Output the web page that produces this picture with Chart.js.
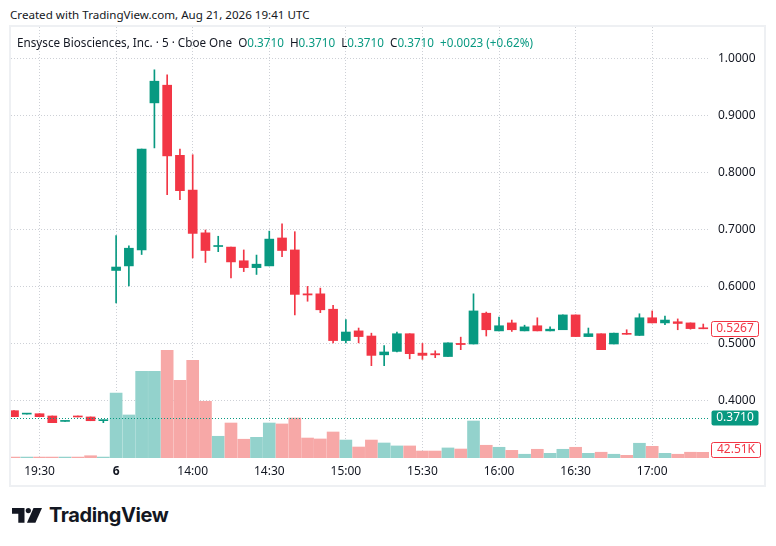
<!doctype html>
<html lang="en">

<head>
	<meta charset="utf-8">
	<title>Ensysce Biosciences 5m</title>
	<style>
		* {
			margin: 0;
			padding: 0;
		}

		body {
			width: 776px;
			height: 546px;
			background: #fff;
			color: #131722;
			font-family: 'Noto Sans', sans-serif;
			position: relative;
			overflow: hidden;
		}

		.created {
			position: absolute;
			left: 10px;
			top: 7px;
			font-size: 11.6px;
			line-height: 16px;
		}

		.panel {
			position: absolute;
			left: 9px;
			top: 25px;
			width: 757px;
			height: 462px;
			border: 2px solid #eef0f3;
			box-sizing: border-box;
		}

		.panel canvas {
			position: absolute;
			left: 0;
			top: 0;
		}

		.legend {
			position: absolute;
			left: 6px;
			top: 7px;
			font-size: 11.7px;
			line-height: 16px;
			white-space: pre;
		}

		.legend .v {
			color: #089981;
		}

		.brand {
			position: absolute;
			left: 12px;
			top: 504px;
		}

		.brand span {
			position: absolute;
			left: 37px;
			top: -1px;
			font-family: Inter, sans-serif;
			font-weight: 700;
			font-size: 20px;
			letter-spacing: -0.4px;
			line-height: 24px;
			white-space: nowrap;
		}
	</style>
</head>

<body>
	<div class="created">Created with TradingView.com, Aug 21, 2026 19:41 UTC</div>
	<div class="panel">
		<canvas id="priceChart" width="753" height="458"></canvas>
		<div class="legend">Ensysce Biosciences, Inc. · 5 · Cboe One  O<span class="v">0.3710</span>  H<span class="v">0.3710</span>  L<span class="v">0.3710</span>  C<span class="v">0.3710</span>  <span class="v">+0.0023 (+0.62%)</span></div>
	</div>
	<div class="brand">
		<svg width="32" height="20" viewBox="0 0 32 20">
			<path d="M0 4h12.5v14.7h-6.2v-9h-6.3z" fill="#131722" />
			<circle cx="16.3" cy="6.6" r="2.6" fill="#131722" />
			<path d="M21.5 4h8.5l-6.6 14.7h-8.4z" fill="#131722" />
		</svg>
		<span>TradingView</span>
	</div>

	<script src="https://cdn.jsdelivr.net/npm/chart.js"></script>
	<script>
		// 5 min bars: 19:20-19:55 previous day, then 13:30-17:20 on the 6th
		const opens = [
			0.383, 0.3770, 0.3777, 0.3737, 0.3642, 0.3737, 0.372, 0.3655,
			0.629, 0.637, 0.665, 0.923, 0.954, 0.831, 0.770, 0.695, 0.671, 0.670,
			0.646, 0.634, 0.637, 0.686, 0.665, 0.588, 0.588, 0.561, 0.506, 0.523,
			0.514, 0.481, 0.487, 0.518, 0.484, 0.483, 0.478, 0.501, 0.500, 0.554,
			0.523, 0.537, 0.523, 0.532, 0.523, 0.525, 0.551, 0.513, 0.518, 0.500,
			0.518, 0.515, 0.546, 0.537, 0.539, 0.537, 0.528
		]
		const highs = [
			0.383, 0.3772, 0.3777, 0.3737, 0.3644, 0.3737, 0.372, 0.3667,
			0.690, 0.672, 0.842, 0.981, 0.972, 0.842, 0.832, 0.700, 0.689, 0.670,
			0.665, 0.656, 0.698, 0.711, 0.697, 0.601, 0.598, 0.568, 0.543, 0.528,
			0.519, 0.497, 0.521, 0.518, 0.501, 0.488, 0.502, 0.512, 0.588, 0.556,
			0.547, 0.542, 0.533, 0.546, 0.530, 0.551, 0.551, 0.528, 0.518, 0.519,
			0.525, 0.553, 0.558, 0.549, 0.544, 0.537, 0.535
		]
		const lows = [
			0.3725, 0.3770, 0.3725, 0.362, 0.3642, 0.372, 0.3654, 0.362,
			0.572, 0.602, 0.657, 0.844, 0.762, 0.753, 0.651, 0.643, 0.662, 0.616,
			0.627, 0.622, 0.637, 0.653, 0.551, 0.575, 0.555, 0.502, 0.502, 0.502,
			0.462, 0.462, 0.486, 0.474, 0.473, 0.476, 0.478, 0.490, 0.500, 0.514,
			0.523, 0.522, 0.523, 0.523, 0.523, 0.525, 0.513, 0.513, 0.490, 0.500,
			0.517, 0.515, 0.537, 0.534, 0.525, 0.526, 0.5267
		]
		const closes = [
			0.3725, 0.3772, 0.3725, 0.362, 0.3644, 0.372, 0.3654, 0.3667,
			0.635, 0.668, 0.842, 0.961, 0.830, 0.769, 0.694, 0.664, 0.672, 0.644,
			0.634, 0.640, 0.684, 0.664, 0.587, 0.586, 0.560, 0.506, 0.521, 0.513,
			0.480, 0.486, 0.518, 0.483, 0.480, 0.481, 0.502, 0.499, 0.558, 0.525,
			0.532, 0.525, 0.530, 0.523, 0.526, 0.551, 0.513, 0.518, 0.490, 0.519,
			0.517, 0.546, 0.537, 0.542, 0.536, 0.527, 0.5267
		]
		// volume in thousands
		const volumes = [
			7, 7, 7, 7, 7, 7, 17, 7,
			485, 321, 647, 647, 803, 580, 729, 423, 162, 261,
			140, 154, 261, 254, 298, 149, 142, 194, 134, 82,
			134, 112, 90, 90, 52, 52, 75, 67, 276, 95,
			80, 57, 28, 65, 35, 65, 80, 35, 43, 28,
			20, 110, 87, 35, 28, 43, 42.51
		]
		const tickIndex = [2, 8, 14, 20, 26, 32, 38, 44, 50]
		const tickLabels = ['19:30', '6', '14:00', '14:30', '15:00', '15:30', '16:00', '16:30', '17:00']
		const priceTicks = [0.4, 0.5, 0.6, 0.7, 0.8, 0.9, 1.0]
		const currentPrice = 0.3710

		const upColor = '#089981'
		const downColor = '#F23645'
		const upVol = '#93d2cc'
		const downVol = '#f7a8a7'
		const gridColor = '#cdd0d6'

		const isUp = opens.map((o, i) => closes[i] >= o)

		const bodies = {
			label: 'body',
			data: opens.map((o, i) => ({ x: i, y: [o, closes[i]] })),
			backgroundColor: isUp.map(u => u ? upColor : downColor),
			barThickness: 9,
			minBarLength: 1,
			grouped: false,
			yAxisID: 'y'
		}
		const wicks = {
			label: 'wick',
			data: lows.map((l, i) => ({ x: i, y: [l, highs[i]] })),
			backgroundColor: isUp.map(u => u ? upColor : downColor),
			barThickness: 1,
			grouped: false,
			yAxisID: 'y'
		}
		const volume = {
			label: 'volume',
			data: volumes.map((v, i) => ({ x: i, y: v })),
			backgroundColor: isUp.map(u => u ? upVol : downVol),
			barThickness: 12,
			grouped: false,
			yAxisID: 'v'
		}

		// no extra room round the plot for edge labels
		const noPad = s => {
			s.paddingTop = 0
			s.paddingBottom = 0
			s.paddingLeft = 0
			s.paddingRight = 0
		}

		// price line + axis tags
		const tagsPlugin = {
			id: 'tags',
			afterDatasetsDraw(chart) {
				const { ctx, chartArea } = chart
				const y = Math.round(chart.scales.y.getPixelForValue(currentPrice)) + 0.5
				ctx.save()
				ctx.strokeStyle = upColor
				ctx.lineWidth = 1
				ctx.setLineDash([1, 2])
				ctx.beginPath()
				ctx.moveTo(chartArea.left, y)
				ctx.lineTo(chartArea.right, y)
				ctx.stroke()
				ctx.restore()
			},
			afterDraw(chart) {
				const { ctx, chartArea } = chart
				const x = chartArea.right + 2
				const tag = (cy, w, text, fill, stroke, color) => {
					ctx.save()
					ctx.beginPath()
					ctx.roundRect(x + 0.5, Math.round(cy - 8) + 0.5, w, 15, 2)
					ctx.fillStyle = fill
					ctx.fill()
					if (stroke) {
						ctx.strokeStyle = stroke
						ctx.lineWidth = 1
						ctx.stroke()
					}
					ctx.fillStyle = color
					ctx.font = "12px 'Noto Sans', sans-serif"
					ctx.textAlign = 'center'
					ctx.textBaseline = 'middle'
					ctx.fillText(text, x + w / 2 + 0.5, Math.round(cy))
					ctx.restore()
				}
				const last = closes.length - 1
				tag(chart.scales.y.getPixelForValue(closes[last]), 47, closes[last].toFixed(4), '#fff', downColor, downColor)
				tag(chart.scales.y.getPixelForValue(currentPrice), 47, currentPrice.toFixed(4), upColor, null, '#fff')
				const vy = Math.min(chart.scales.v.getPixelForValue(volumes[last]), chartArea.bottom - 8)
				tag(vy, 49, volumes[last].toFixed(2) + 'K', '#fff', downColor, downColor)
			}
		}

		Chart.defaults.font.family = "'Noto Sans', sans-serif"
		Chart.defaults.font.size = 12
		Chart.defaults.color = '#131722'

		const priceChart = new Chart(document.getElementById('priceChart'), {
			type: 'bar',
			data: { datasets: [bodies, wicks, volume] },
			options: {
				responsive: false,
				animation: false,
				layout: { padding: 0 },
				plugins: {
					legend: { display: false },
					tooltip: { enabled: false }
				},
				scales: {
					x: {
						type: 'linear',
						min: -0.235,
						max: 54.45,
						offset: false,
						afterBuildTicks: s => { s.ticks = tickIndex.map(v => ({ value: v })) },
						afterFit: s => { s.height = 27; noPad(s) },
						ticks: {
							autoSkip: false,
							maxRotation: 0,
							padding: 6,
							callback: v => tickLabels[tickIndex.indexOf(v)],
							font: c => ({ size: 12, weight: c.tick && c.tick.label === '6' ? 'bold' : 'normal' })
						},
						grid: { offset: false, color: gridColor, drawTicks: false },
						border: { display: false, dash: [1, 2] }
					},
					y: {
						position: 'right',
						min: 0.3,
						max: 1.0561,
						afterBuildTicks: s => { s.ticks = priceTicks.map(v => ({ value: v })) },
						afterFit: s => { s.width = 55; noPad(s) },
						ticks: {
							padding: 9,
							callback: v => v.toFixed(4)
						},
						grid: { color: gridColor, drawTicks: false },
						border: { display: false, dash: [1, 2] }
					},
					v: {
						display: false,
						min: 0,
						max: 3215
					}
				}
			},
			plugins: [tagsPlugin]
		})
	</script>
</body>

</html>
